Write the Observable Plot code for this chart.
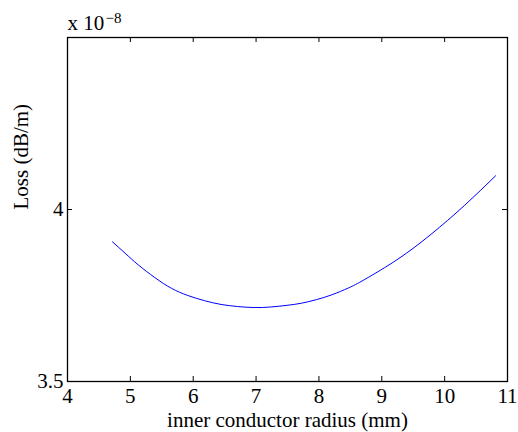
<!DOCTYPE html>
<html>
<head>
<meta charset="utf-8">
<script src="https://cdn.jsdelivr.net/npm/d3@7"></script>
<script src="https://cdn.jsdelivr.net/npm/@observablehq/plot@0.6"></script>
<style>
  html, body { margin: 0; padding: 0; background: white; }
</style>
</head>
<body>
<div id="chart"></div>
<script>
// inner conductor radius (mm)
const radius = [4.715, 4.916, 5.126, 5.390, 5.653, 5.915, 6.179, 6.443, 6.705, 6.969, 7.232, 7.494, 7.72, 7.96, 8.205, 8.47, 8.732, 9.258, 9.784, 10.311, 10.811];
// Loss (dB/m), in units of 1e-8
const loss = [3.906, 3.873, 3.839, 3.802, 3.771, 3.750, 3.735, 3.724, 3.718, 3.715, 3.7165, 3.7215, 3.7275, 3.738, 3.752, 3.772, 3.797, 3.856, 3.928, 4.011, 4.098];

const xTicks = [4, 5, 6, 7, 8, 9, 10, 11];
const yTickLabels = [3.5, 4];
const yTickMarks = [3.5, 4, 4.5];
const xLabel = "inner conductor radius (mm)";
const yLabel = "Loss (dB/m)";
const exponentBase = "x 10";
const exponent = "\u22128";

const data = radius.map((r, i) => ({r, loss: loss[i]}));
const font = "'Liberation Serif', 'Times New Roman', serif";

const W = 518, H = 432, mL = 67, mR = 11, mT = 37, mB = 51;
const fw = W - mL - mR, fh = H - mT - mB;

const chart = Plot.plot({
  width: W, height: H,
  marginLeft: mL, marginRight: mR, marginTop: mT, marginBottom: mB,
  x: {domain: [4, 11]},
  y: {domain: [3.5, 4.5]},
  style: {fontFamily: font, fontSize: "21px", background: "white", color: "black"},
  marks: [
    Plot.axisX(xTicks, {tickSize: 0, tickPadding: 7, fontSize: 21, label: null, tickFormat: d => `${d}`}),
    Plot.axisY(yTickLabels, {tickSize: 0, tickPadding: 4, fontSize: 21, label: null, tickFormat: d => `${d}`}),
    Plot.tickX(xTicks, {x: d => d, insetTop: fh - 5, stroke: "black"}),
    Plot.tickX(xTicks, {x: d => d, insetBottom: fh - 5, stroke: "black"}),
    Plot.tickY(yTickMarks, {y: d => d, insetRight: fw - 5, stroke: "black"}),
    Plot.tickY(yTickMarks, {y: d => d, insetLeft: fw - 5, stroke: "black"}),
    Plot.line(data, {x: "r", y: "loss", stroke: "#0000ff", strokeWidth: 1, curve: "natural"}),
    Plot.frame({stroke: "black", strokeWidth: 1.3}),
    Plot.text([xLabel], {text: d => d, frameAnchor: "bottom", dy: 38.6, fontSize: 21, lineAnchor: "middle"}),
    Plot.text([yLabel], {text: d => d, frameAnchor: "left", dx: -46, rotate: -90, fontSize: 21, lineAnchor: "middle"}),
    Plot.text([exponentBase], {text: d => d, frameAnchor: "top-left", dy: -14.7, fontSize: 21, textAnchor: "start", lineAnchor: "middle"}),
    Plot.text([exponent], {text: d => d, frameAnchor: "top-left", dx: 38, dy: -19.8, fontSize: 15, textAnchor: "start", lineAnchor: "middle"})
  ]
});
document.getElementById("chart").appendChild(chart);
</script>
</body>
</html>
